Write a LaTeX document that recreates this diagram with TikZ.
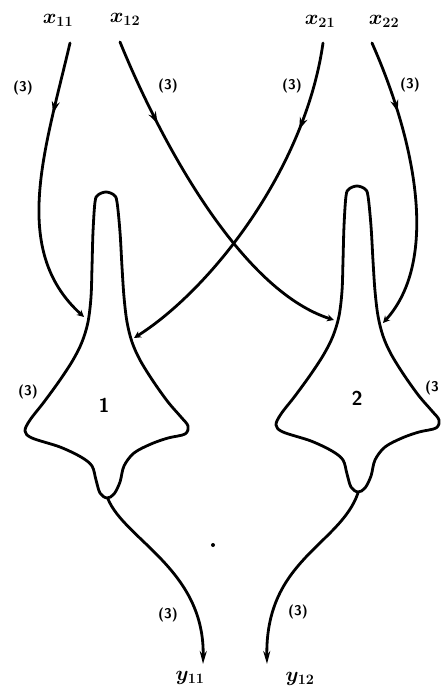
\documentclass[tikz,border=0pt]{standalone}
\usetikzlibrary{arrows.meta,decorations.markings}
\begin{document}
\begin{tikzpicture}[x=1pt,y=-1pt,
  ink/.style={line width=2.8pt,line cap=round,line join=round},
  midarrow/.style={postaction={decorate},decoration={markings,
     mark=at position #1 with {\arrow{Stealth[length=12pt,width=8pt]}}}},
  inarrow/.style={-{Stealth[length=7pt,width=7pt]}},
  outarrow/.style={-{Stealth[length=13pt,width=7pt]}},
  var/.style={font=\fontsize{21}{24}\selectfont\boldmath},
  cnt/.style={font=\fontsize{14}{16}\selectfont\sffamily\bfseries},
  num/.style={font=\fontsize{20}{22}\selectfont\sffamily\bfseries},
  blob/.pic={\draw[ink] plot[smooth cycle,tension=0.55] coordinates {
     (0,0) (8,3) (11,10) (14,40) (16,75) (18,105) (21,130) (26,150)
     (34,168) (47,189) (62,210) (75,225) (82,234) (79,242) (62,246)
     (45,252) (28,261) (18,274) (14,290) (8,302) (1,306) (-6,301)
     (-10,288) (-14,274) (-25,265) (-46,255) (-74,246) (-81,239) (-76,228)
     (-62,210) (-46,188) (-33,168) (-24,150) (-18,130) (-15,105) (-14,75)
     (-13,40) (-11,10) (-8,3)};}
]
\useasboundingbox (0,0) rectangle (440,695);

% labels of inputs and outputs
\node[var] (x11) at (58,20) {$x_{11}$};
\node[var] (x12) at (125,19) {$x_{12}$};
\node[var] (x21) at (320,21) {$x_{21}$};
\node[var] (x22) at (384,21) {$x_{22}$};
\node[var] (y11) at (190,678) {$y_{11}$};
\node[var] (y12) at (300,679) {$y_{12}$};

% the two units
\pic at (106,192) {blob};
\pic at (357,186) {blob};
\node[num] (u1) at (104,405) {1};
\node[num] (u2) at (357,398) {2};

% start and end points
\coordinate (s11) at (70,43);
\coordinate (s12) at (120,42);
\coordinate (s21) at (323,43);
\coordinate (s22) at (372,43);
\coordinate (p1l) at (84,317);
\coordinate (p1r) at (134,338);
\coordinate (p2l) at (334,320);
\coordinate (p2r) at (383,323);
\coordinate (b1) at (108,499);
\coordinate (b2) at (358,493);
\coordinate (e1) at (203,664);
\coordinate (e2) at (267,664);

% connectors
\draw[ink,inarrow,midarrow=0.25] (s11) .. controls (45,150) and (10,250) .. (p1l);
\draw[ink,inarrow,midarrow=0.25] (s12) .. controls (160,140) and (240,290) .. (p2l);
\draw[ink,inarrow,midarrow=0.25] (s21) .. controls (305,170) and (210,290) .. (p1r);
\draw[ink,inarrow,midarrow=0.25] (s22) .. controls (415,140) and (440,260) .. (p2r);
\draw[ink,outarrow] (b1) .. controls (125,540) and (205,570) .. (e1);
\draw[ink,outarrow] (b2) .. controls (340,545) and (265,560) .. (e2);

% counts
\node[cnt] (c11) at (23,88) {(3)};
\node[cnt] (c12) at (168,86) {(3)};
\node[cnt] (c21) at (292,86) {(3)};
\node[cnt] (c22) at (410,85) {(3)};
\node[cnt] (c1) at (28,392) {(3)};
\node[cnt] (c2) at (432,388) {(3};
\node[cnt] (c3) at (168,615) {(3)};
\node[cnt] (c4) at (298,612) {(3)};

\fill (213,545) circle (2);
\end{tikzpicture}
\end{document}
